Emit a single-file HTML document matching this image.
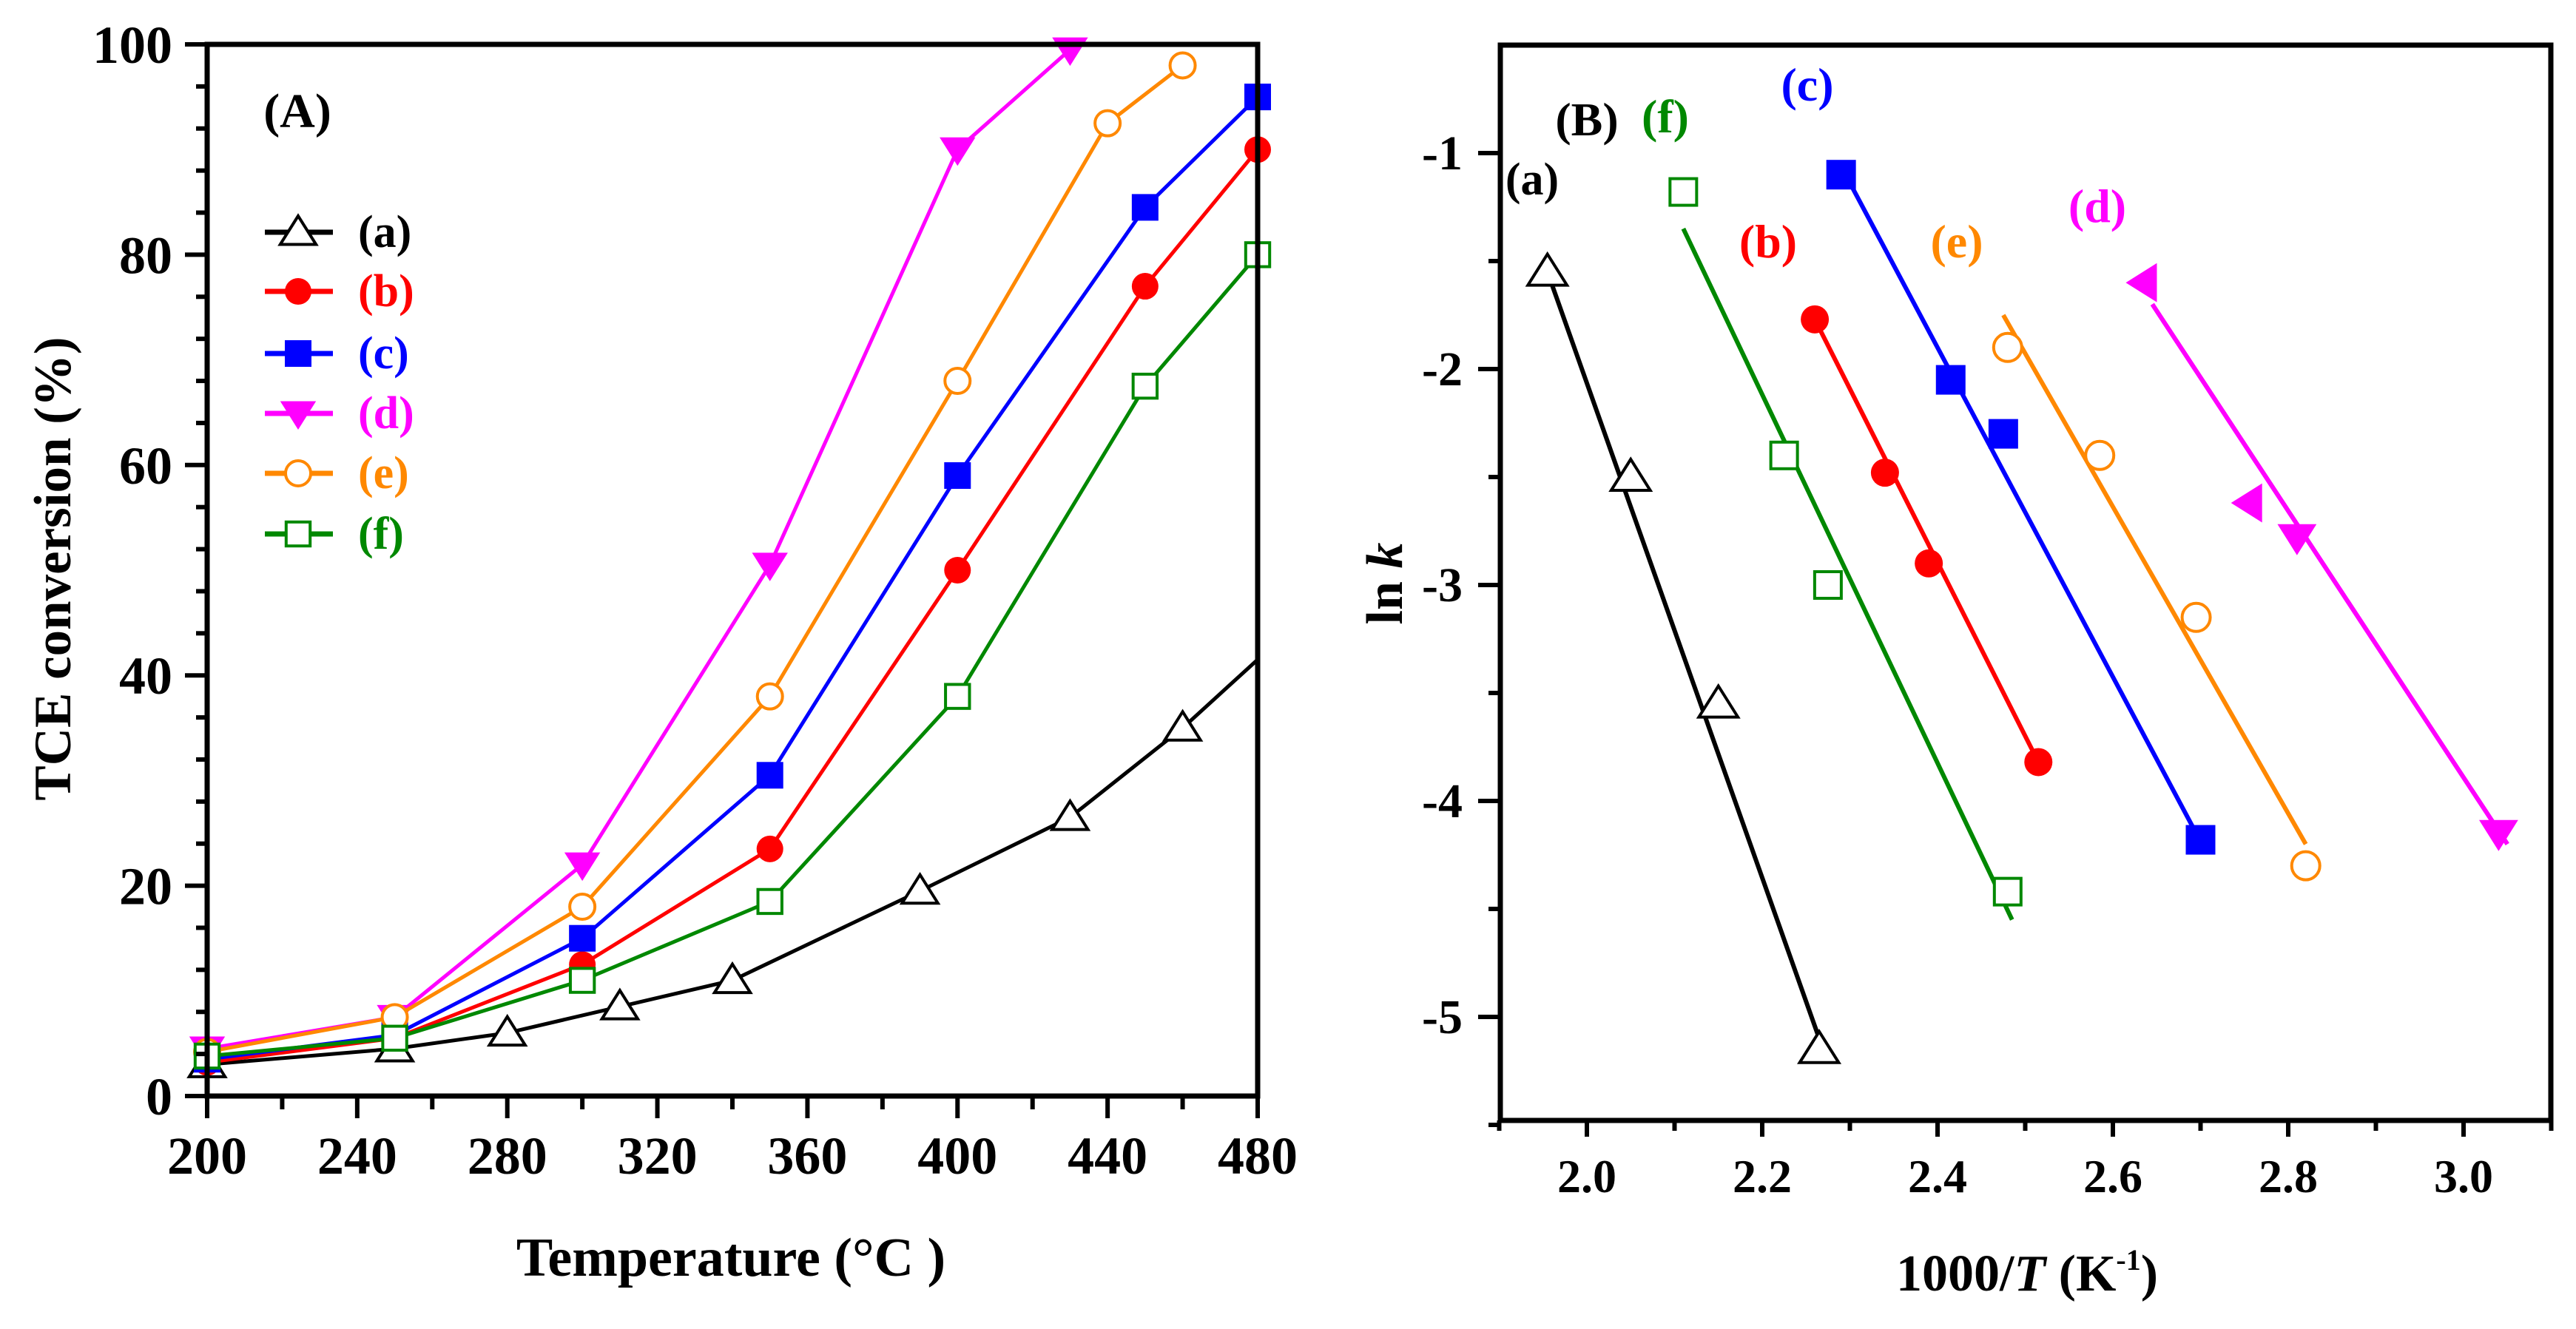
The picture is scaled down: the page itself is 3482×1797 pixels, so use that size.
<!DOCTYPE html>
<html><head><meta charset="utf-8"><style>
body{margin:0;background:#fff}
svg text{font-family:"Liberation Serif",serif;font-weight:bold}
</style></head><body>
<svg id="c" width="3482" height="1792" viewBox="0 0 3482 1792" xmlns="http://www.w3.org/2000/svg"></svg>
<script>
const aTicksX=[200,240,280,320,360,400,440,480];
const aTicksY=[0,20,40,60,80,100];
const aSeriesNames=["(a)","(b)","(c)","(d)","(e)","(f)"];
const aColors=["#000","#f00","#00f","#f0f","#f80","#080"];
const aMarkers=["tri","circle","square","tridown","ocircle","osquare"];
const aA=[[200,3],[250,4.5],[280,6],[310,8.5],[340,11],[390,19.5],[430,26.5],[460,35],[480,41.5]];
const aB=[[200,3.2],[250,5.5],[300,12.5],[350,23.5],[400,50],[450,77],[480,90]];
const aC=[[200,3.5],[250,5.8],[300,15],[350,30.5],[400,59],[450,84.5],[480,95]];
const aD=[[200,4.5],[250,7.5],[300,22],[350,50.5],[400,90],[430,99.5]];
const aE=[[200,4.2],[250,7.5],[300,18],[350,38],[400,68],[440,92.5],[460,98]];
const aF=[[200,3.8],[250,5.5],[300,11],[350,18.5],[400,38],[450,67.5],[480,80]];
const bTicksX=[2.0,2.2,2.4,2.6,2.8,3.0];
const bTicksY=[-1,-2,-3,-4,-5];
const bPtsA=[[1.955,-1.55],[2.05,-2.5],[2.15,-3.55],[2.265,-5.15]];
const bLineA=[[1.955,-1.55],[2.265,-5.1]];
const bPtsF=[[2.11,-1.18],[2.225,-2.4],[2.275,-3.0],[2.48,-4.42]];
const bLineF=[[2.11,-1.35],[2.485,-4.55]];
const bPtsB=[[2.26,-1.77],[2.34,-2.48],[2.39,-2.9],[2.515,-3.82]];
const bLineB=[[2.26,-1.77],[2.515,-3.82]];
const bPtsC=[[2.29,-1.1],[2.415,-2.05],[2.475,-2.3],[2.7,-4.18]];
const bLineC=[[2.295,-1.1],[2.695,-4.15]];
const bPtsE=[[2.48,-1.9],[2.585,-2.4],[2.695,-3.15],[2.82,-4.3]];
const bLineE=[[2.475,-1.75],[2.82,-4.2]];
const bPtsDleft=[[2.635,-1.6],[2.755,-2.62]];
const bPtsDdown=[[2.81,-2.78],[3.04,-4.15]];
const bLineD=[[2.645,-1.7],[3.05,-4.2]];

const NS="http://www.w3.org/2000/svg",svg=document.getElementById('c');
function el(t,a,p){const e=document.createElementNS(NS,t);for(const k in a)e.setAttribute(k,a[k]);(p||svg).appendChild(e);return e;}
function txt(s,x,y,sz,col,anchor,name){const t=el('text',{x:x,y:y,'font-size':sz,fill:col,'text-anchor':anchor||'middle'});t.textContent=s;


return t;}
function marker(type,x,y,col,s,g){let e;
 if(type=='tri')e=el('polygon',{points:`${x},${y-s} ${x-s*1.1},${y+s*0.75} ${x+s*1.1},${y+s*0.75}`,fill:'#fff',stroke:col,'stroke-width':4},g);
 else if(type=='tridown')e=el('polygon',{points:`${x},${y+s} ${x-s*1.1},${y-s*0.75} ${x+s*1.1},${y-s*0.75}`,fill:col},g);
 else if(type=='trileft')e=el('polygon',{points:`${x-s},${y} ${x+s*0.75},${y-s*1.1} ${x+s*0.75},${y+s*1.1}`,fill:col},g);
 else if(type=='circle')e=el('circle',{cx:x,cy:y,r:s,fill:col},g);
 else if(type=='ocircle')e=el('circle',{cx:x,cy:y,r:s,fill:'#fff',stroke:col,'stroke-width':4},g);
 else if(type=='square')e=el('rect',{x:x-s,y:y-s,width:2*s,height:2*s,fill:col},g);
 else e=el('rect',{x:x-s*0.9,y:y-s*0.9,width:1.8*s,height:1.8*s,fill:'#fff',stroke:col,'stroke-width':4},g);
 
 
}
const mSizeA=[22,18,18,22,17,18];
// Panel A
const AL=280,AR=1700,AT=60,AB=1482;
const ax=v=>AL+(v-200)/280*(AR-AL), ay=v=>AB-v/100*(AB-AT);
const gA=el('g',{});


const seriesA=[aA,aB,aC,aD,aE,aF];
seriesA.forEach((s,i)=>{const g=el('g',{},gA);
 
 
 const p=el('polyline',{points:s.map(d=>ax(d[0])+','+ay(d[1])).join(' '),fill:'none',stroke:aColors[i],'stroke-width':5},g);
 
 
 const pts=i==0?s.slice(0,-1):s;
 pts.forEach(d=>marker(aMarkers[i],ax(d[0]),ay(d[1]),aColors[i],mSizeA[i],g));
});
const fA=el('rect',{x:AL,y:AT,width:AR-AL,height:AB-AT,fill:'none',stroke:'#000','stroke-width':7},gA);


aTicksX.forEach(v=>{el('line',{x1:ax(v),x2:ax(v),y1:AB,y2:AB+30,stroke:'#000','stroke-width':6},gA);txt(v,ax(v),1587,72,'#000','middle','x-tick-label');});
for(let v=220;v<480;v+=40)el('line',{x1:ax(v),x2:ax(v),y1:AB,y2:AB+18,stroke:'#000','stroke-width':6},gA);
aTicksY.forEach(v=>{el('line',{x1:AL-30,x2:AL,y1:ay(v),y2:ay(v),stroke:'#000','stroke-width':6},gA);txt(v,AL-47,ay(v)+25,72,'#000','end','y-tick-label');});
for(let v=4;v<100;v+=4){if(v%20)el('line',{x1:AL-15,x2:AL,y1:ay(v),y2:ay(v),stroke:'#000','stroke-width':6},gA);}
txt('Temperature (°C )',988,1725,74,'#000','middle','x-axis-title-a');
const yt=txt('TCE conversion (%)',0,0,71,'#000','middle','y-axis-title-a');yt.setAttribute('transform','translate(95,769) rotate(-90)');
txt('(A)',402,172,66,'#000','middle','panel-label-a');
const legY=[314,394,478,559,640,722];
aSeriesNames.forEach((n,i)=>{el('line',{x1:358,x2:450,y1:legY[i],y2:legY[i],stroke:aColors[i],'stroke-width':7},gA);marker(aMarkers[i],403,legY[i],aColors[i],mSizeA[i],gA);txt(n,484,legY[i]+20,62,aColors[i],'start','legend-entry');});
// Panel B
const BL=2028,BR=3448,BT=61,BB=1515;
const bx=v=>2145+(v-2)*1185, by=v=>207+(-1-v)*292;
const gB=el('g',{});


const bs=[[bLineA,bPtsA,'#000','tri',24],[bLineF,bPtsF,'#080','osquare',20],[bLineB,bPtsB,'#f00','circle',19],[bLineC,bPtsC,'#00f','square',20],[bLineE,bPtsE,'#f80','ocircle',19],[bLineD,bPtsDleft,'#f0f','trileft',24],[bLineD,bPtsDdown,'#f0f','tridown',24]];
bs.forEach(s=>{const g=el('g',{},gB);
 
 
 const l=el('line',{x1:bx(s[0][0][0]),y1:by(s[0][0][1]),x2:bx(s[0][1][0]),y2:by(s[0][1][1]),stroke:s[2],'stroke-width':6},g);
 
 
 s[1].forEach(d=>marker(s[3],bx(d[0]),by(d[1]),s[2],s[4],g));
});
const fB=el('rect',{x:BL,y:BT,width:BR-BL,height:BB-BT,fill:'none',stroke:'#000','stroke-width':7},gB);


bTicksX.forEach(v=>{el('line',{x1:bx(v),x2:bx(v),y1:BB,y2:BB+22,stroke:'#000','stroke-width':6},gB);txt(v.toFixed(1),bx(v),1612,64,'#000','middle','x-tick-label');});
for(let v=1.9;v<3.11;v+=0.2)el('line',{x1:bx(v),x2:bx(v),y1:BB,y2:BB+14,stroke:'#000','stroke-width':6},gB);
bTicksY.forEach(v=>{el('line',{x1:BL-30,x2:BL,y1:by(v),y2:by(v),stroke:'#000','stroke-width':6},gB);txt(v,BL-51,by(v)+22,66,'#000','end','y-tick-label');});
for(let v=-1.5;v>-5.6;v-=1)el('line',{x1:BL-16,x2:BL,y1:by(v),y2:by(v),stroke:'#000','stroke-width':6},gB);
const xt=el('text',{x:2740,y:1745,'font-size':70,'text-anchor':'middle',fill:'#000'});


xt.innerHTML='1000/<tspan font-style="italic">T</tspan> (K<tspan font-size="40" dy="-28">-1</tspan><tspan dy="28">)</tspan>';
const yl=el('text',{transform:'translate(1895,789) rotate(-90)','font-size':70,'text-anchor':'middle'});


yl.innerHTML='ln <tspan font-style="italic">k</tspan>';
txt('(B)',2145,183,64,'#000','middle','panel-label-b');
txt('(f)',2251,179,64,'#080','middle','label-f');
txt('(c)',2443,136,64,'#00f','middle','label-c');
txt('(a)',2071,263,62,'#000','middle','label-a');
txt('(b)',2390,348,64,'#f00','middle','label-b');
txt('(e)',2645,348,64,'#f80','middle','label-e');
txt('(d)',2835,300,64,'#f0f','middle','label-d');
</script>
</body></html>
